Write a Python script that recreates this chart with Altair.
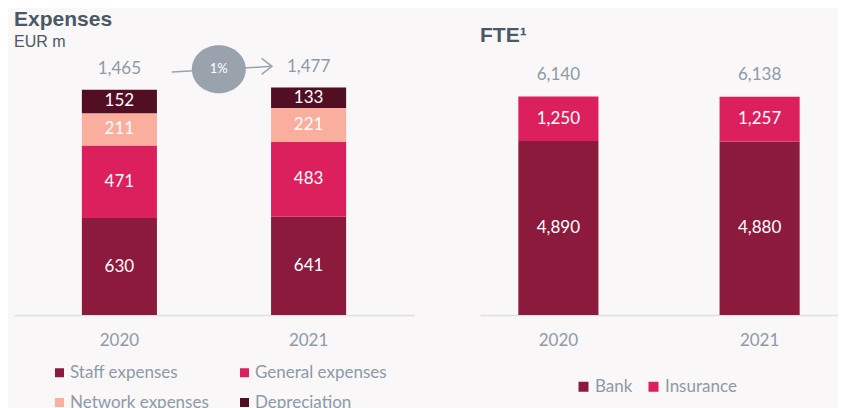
import altair as alt
import pandas as pd

# ---------------- data ----------------
years = ["2020", "2021"]

exp_categories = ["Staff expenses", "General expenses", "Network expenses", "Depreciation"]
exp_colors = ["#8b1a3c", "#dc1f5d", "#f9ae9e", "#520f24"]
exp_2020 = [630, 471, 211, 152]
exp_2021 = [641, 483, 221, 133]
exp_totals = [1465, 1477]
exp_change = "1%"

fte_categories = ["Bank", "Insurance"]
fte_colors = ["#8b1a3c", "#dc1f5d"]
fte_2020 = [4890, 1250]
fte_2021 = [4880, 1257]
fte_totals = [6140, 6138]

# ---------------- styles ----------------
FONT = "Lato"
TITLE_FONT = "Liberation Sans"
GREY_TXT = "#8d9aa8"
TITLE_COL = "#4b5866"
BG = "#f9f7f7"
AXIS_COL = "#dde0e4"
ANN_COL = "#9aa3ad"

rows = []
for y, vals in zip(years, [exp_2020, exp_2021]):
    for i, (c, v) in enumerate(zip(exp_categories, vals)):
        rows.append({"year": y, "cat": c, "value": v, "order": i})
df_exp = pd.DataFrame(rows)
df_exp_tot = pd.DataFrame({"year": years, "total": exp_totals})
df_ann = pd.DataFrame({"from": [years[0]], "to": [years[1]],
                       "t0": [exp_totals[0]], "t1": [exp_totals[1]], "label": [exp_change]})

rows = []
for y, vals in zip(years, [fte_2020, fte_2021]):
    for i, (c, v) in enumerate(zip(fte_categories, vals)):
        rows.append({"year": y, "cat": c, "value": v, "order": i})
df_fte = pd.DataFrame(rows)
df_fte_tot = pd.DataFrame({"year": years, "total": fte_totals})

H = 254


def xenc(field, pin, pout):
    return alt.X(f"{field}:N", sort=years,
                 scale=alt.Scale(domain=years, paddingInner=pin, paddingOuter=pout),
                 axis=alt.Axis(title=None, labelAngle=0, ticks=False, domainColor=AXIS_COL,
                               domainWidth=1.5, labelColor=GREY_TXT, labelFont=FONT,
                               labelFontSize=17, labelPadding=17, grid=False))


def stacked(df, tot_df, cats, colors, ydom, pin, pout, legend, dy_tot):
    yscale = alt.Scale(domain=[0, ydom], nice=False, zero=True)
    base = alt.Chart(df).transform_stack(
        stack="value", groupby=["year"],
        sort=[alt.SortField("order", order="ascending")], as_=["v0", "v1"]
    ).transform_calculate(mid="(datum.v0 + datum.v1) / 2")
    bars = base.mark_bar().encode(
        x=xenc("year", pin, pout),
        y=alt.Y("v0:Q", scale=yscale, axis=None),
        y2="v1:Q",
        color=alt.Color("cat:N", scale=alt.Scale(domain=cats, range=colors), legend=legend),
    )
    labels = base.mark_text(color="white", font=FONT, fontSize=17, baseline="middle").encode(
        x=alt.X("year:N", sort=years),
        y=alt.Y("mid:Q", scale=yscale, axis=None),
        text=alt.Text("value:Q", format=","),
    )
    tots = alt.Chart(tot_df).mark_text(color=GREY_TXT, font=FONT, fontSize=17,
                                       baseline="middle", dy=dy_tot).encode(
        x=alt.X("year:N", sort=years),
        y=alt.Y("total:Q", scale=yscale, axis=None),
        text=alt.Text("total:Q", format=","),
    )
    return bars, labels, tots, yscale


# ---------------- left: expenses ----------------
left_legend = alt.Legend(title=None, orient="none", legendX=37, legendY=303, columns=2,
                         direction="horizontal", symbolType="square", symbolSize=81,
                         symbolStrokeWidth=0, labelFont=FONT, labelFontSize=17,
                         labelColor=GREY_TXT, labelOffset=2, columnPadding=27, rowPadding=12)
l_bars, l_labels, l_tots, l_ys = stacked(df_exp, df_exp_tot, exp_categories, exp_colors,
                                         1651, 0.6032, 0.3587, left_legend, -21)

ellipse_path = "M-1,0A1,0.889,0,1,1,1,0A1,0.889,0,1,1,-1,0Z"
chevron_path = "M-1.3,-1L0,0L-1.3,1"

ann_base = alt.Chart(df_ann)
ann_line = ann_base.mark_rule(color=ANN_COL, strokeWidth=1.5, xOffset=52.4, x2Offset=-36.6,
                              yOffset=-17.6, y2Offset=-21.4).encode(
    x=alt.X("from:N", sort=years), x2="to:N",
    y=alt.Y("t0:Q", scale=l_ys, axis=None), y2="t1:Q")
ann_ell = ann_base.mark_point(shape=ellipse_path, size=2916, filled=True, opacity=1,
                              color=ANN_COL, xOffset=99.4, yOffset=-20.3).encode(
    x=alt.X("from:N", sort=years), y=alt.Y("t0:Q", scale=l_ys, axis=None))
ann_txt = ann_base.mark_text(color="white", font=FONT, fontSize=13, baseline="middle",
                             dx=99.4, dy=-20.3).encode(
    x=alt.X("from:N", sort=years), y=alt.Y("t0:Q", scale=l_ys, axis=None), text="label:N")
ann_head = ann_base.mark_point(shape=chevron_path, size=256, filled=False, opacity=1,
                               color=ANN_COL, strokeWidth=1.5, xOffset=-36.6,
                               yOffset=-21.4).encode(
    x=alt.X("to:N", sort=years), y=alt.Y("t1:Q", scale=l_ys, axis=None))

left = alt.layer(l_bars, l_labels, l_tots, ann_line, ann_ell, ann_txt, ann_head).properties(
    width=400, height=H,
    title=alt.TitleParams("Expenses", subtitle="EUR m", anchor="start", frame="group",
                          font=TITLE_FONT, fontSize=21, fontWeight="bold", color=TITLE_COL,
                          subtitleFont=TITLE_FONT, subtitleFontSize=16,
                          subtitleColor=TITLE_COL, subtitlePadding=4, offset=-4.5),
)

# ---------------- right: FTE ----------------
right_legend = alt.Legend(title=None, orient="none", legendX=95, legendY=317,
                          direction="horizontal", symbolType="square", symbolSize=100,
                          symbolStrokeWidth=0, labelFont=FONT, labelFontSize=17,
                          labelColor=GREY_TXT, labelOffset=3, columnPadding=12)
r_bars, r_labels, r_tots, r_ys = stacked(df_fte, df_fte_tot, fte_categories, fte_colors,
                                         7141, 0.602, 0.1905, right_legend, -22)
right = alt.layer(r_bars, r_labels, r_tots).properties(
    width=358, height=H,
    title=alt.TitleParams("FTE¹", anchor="start", frame="group", font=TITLE_FONT,
                          fontSize=21, fontWeight="bold", color=TITLE_COL, offset=15.5),
)

chart = alt.hconcat(left, right, spacing=66, bounds="flush").resolve_scale(
    color="independent", y="independent", x="independent"
).properties(
    padding={"left": 6, "top": 0, "right": 0, "bottom": 0},
    background=BG,
).configure_view(stroke=None)

chart.save("out.html", embed_options={"renderer": "svg", "actions": False})
